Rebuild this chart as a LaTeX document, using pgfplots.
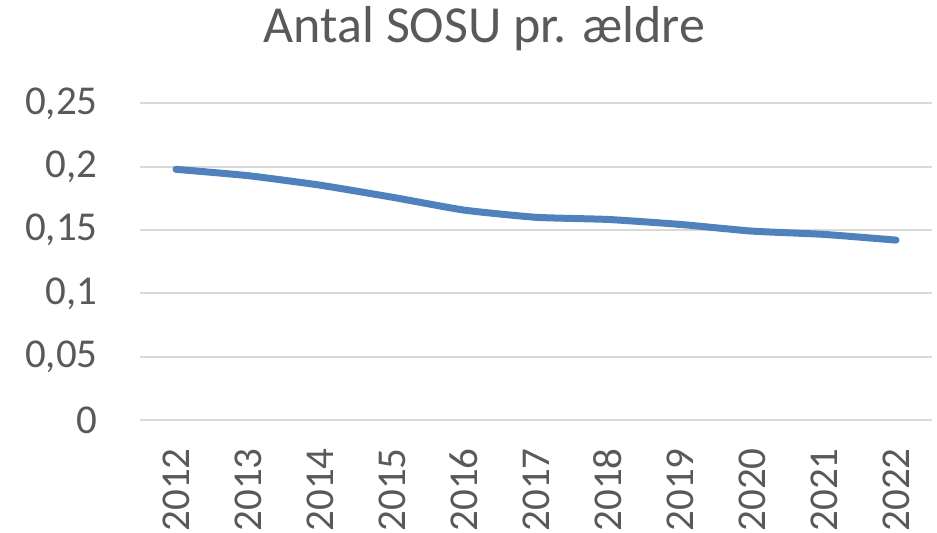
\documentclass[border=0pt]{standalone}
\usepackage{pgfplots}
\usepackage{fontspec}
\setmainfont{Carlito}
\pgfplotsset{compat=1.18}
\definecolor{linblue}{HTML}{4F81BD}
\definecolor{txtgray}{HTML}{595959}
\definecolor{gridgray}{HTML}{D9D9D9}

\begin{document}
\begin{tikzpicture}
  \path[use as bounding box] (-70pt,-56.5pt) rectangle (398.5pt,210pt);
  \begin{axis}[
    at={(0pt,0pt)}, anchor=south west,
    scale only axis,
    width=396pt, height=158.25pt,
    xmin=-0.5, xmax=10.5,
    ymin=0, ymax=0.25,
    xtick={0,...,10},
    xticklabels={2012,2013,2014,2015,2016,2017,2018,2019,2020,2021,2022},
    ytick={0,0.05,0.1,0.15,0.2,0.25},
    yticklabels={0,{0,05},{0,1},{0,15},{0,2},{0,25}},
    axis line style={draw=none},
    axis x line*=bottom,
    major tick length=0pt,
    ymajorgrids,
    grid style={gridgray, line width=1pt},
    yticklabel style={font=\fontsize{20.5}{20.5}\selectfont, text=txtgray, inner sep=0pt, xshift=-21pt},
    xticklabel style={font=\fontsize{20.5}{20.5}\selectfont, text=txtgray, yshift=-14pt, rotate=90, anchor=east, inner sep=0pt},
    clip=false
  ]
    \addplot[linblue, line width=3.5pt, line cap=round, line join=round, smooth, tension=0.3]
      coordinates {(0,0.198) (1,0.193) (2,0.1855) (3,0.176) (4,0.1658) (5,0.1601)
                   (6,0.1584) (7,0.1545) (8,0.1492) (9,0.1466) (10,0.1421)};
  \end{axis}
  \node[anchor=base, text=txtgray, font=\fontsize{26}{26}\selectfont, inner sep=0pt]
    at (172.25pt,188.5pt) {Antal SOSU pr. ældre};
\end{tikzpicture}
\end{document}
